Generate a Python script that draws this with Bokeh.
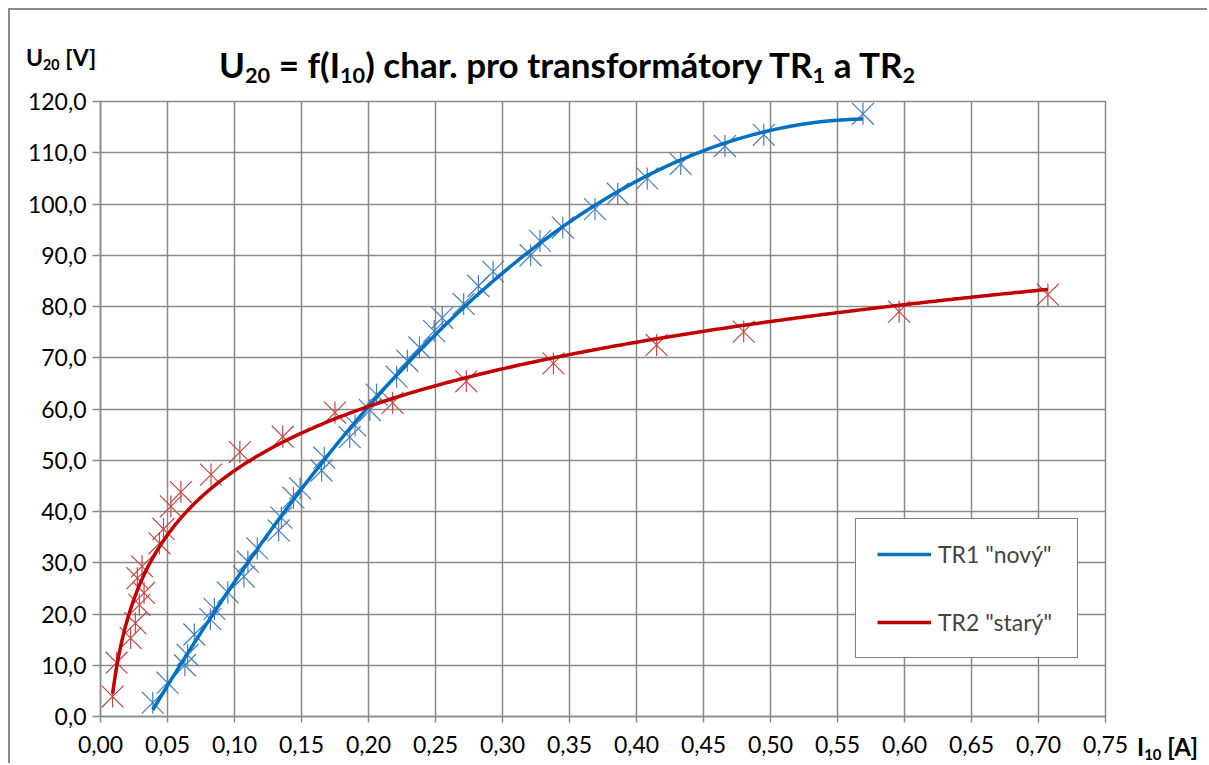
import numpy as np
from bokeh.plotting import figure
from bokeh.layouts import column
from bokeh.models import (Range1d, FixedTicker, CustomJSTickFormatter, Div,
                          Legend, LegendItem)
from bokeh.embed import file_html
from bokeh.resources import INLINE

# ---- data ----
tr1_i = [0.039, 0.050, 0.063, 0.065, 0.070, 0.082, 0.085, 0.095, 0.107, 0.110,
         0.117, 0.133, 0.135, 0.144, 0.149, 0.165, 0.167, 0.186, 0.190, 0.201,
         0.206, 0.221, 0.229, 0.238, 0.249, 0.255, 0.271, 0.282, 0.293, 0.321,
         0.328, 0.345, 0.369, 0.386, 0.408, 0.433, 0.466, 0.495, 0.569]
tr1_u = [2.7, 6.6, 10.0, 12.0, 16.0, 19.0, 21.0, 24.2, 27.3, 30.2,
         32.8, 36.3, 38.8, 42.7, 44.5, 48.0, 50.5, 54.5, 56.8, 59.8,
         62.8, 66.3, 69.4, 72.0, 75.2, 77.8, 80.5, 84.0, 86.8, 90.0,
         92.8, 95.4, 99.0, 102.0, 105.0, 107.8, 111.3, 113.5, 117.6]

tr2_i = [0.009, 0.012, 0.0225, 0.026, 0.0275, 0.029, 0.031, 0.0325, 0.044, 0.047,
         0.0525, 0.060, 0.0825, 0.104, 0.136, 0.175, 0.218, 0.273, 0.338, 0.415,
         0.480, 0.596, 0.707]
tr2_u = [3.9, 10.5, 15.3, 18.2, 27.0, 21.8, 29.3, 24.1, 33.8, 36.6,
         41.0, 43.8, 47.2, 51.6, 54.6, 59.3, 61.2, 65.4, 68.9, 72.5,
         75.1, 79.0, 82.3]

series_names = ['TR1 "nový"', 'TR2 "starý"']
x_ticks = [round(0.05 * k, 2) for k in range(16)]
y_ticks = [10 * k for k in range(13)]

# ---- trendlines computed from the data (as in the original spreadsheet) ----
c1 = np.polyfit(tr1_i, tr1_u, 3)
t1x = np.linspace(min(tr1_i), max(tr1_i), 200)
t1y = np.polyval(c1, t1x)
c2 = np.polyfit(np.log(tr2_i), tr2_u, 1)
t2x = np.linspace(min(tr2_i), max(tr2_i), 300)
t2y = np.polyval(c2, np.log(t2x))

FONT = "Lato"
GRID = "#8a8a8a"

p = figure(width=1199, height=755, output_backend="svg", toolbar_location=None,
           x_range=Range1d(0, 0.75), y_range=Range1d(0, 120),
           min_border_left=90, min_border_right=104, min_border_top=91,
           min_border_bottom=49, background_fill_color="white",
           border_fill_color="white",
           styles={"border-top": "2px solid #8a8a8a",
                   "border-left": "2px solid #8a8a8a",
                   "margin-left": "8px", "margin-top": "8px"})
p.outline_line_color = GRID
p.outline_line_width = 1.5

for ax in (p.xaxis[0], p.yaxis[0]):
    ax.axis_line_color = GRID
    ax.axis_line_width = 1.5
    ax.major_tick_line_color = GRID
    ax.major_tick_line_width = 1.5
    ax.major_tick_in = 0
    ax.minor_tick_line_color = None
    ax.major_label_text_font = FONT
    ax.major_label_text_font_size = "23px"
    ax.major_label_text_color = "black"

p.xaxis.ticker = FixedTicker(ticks=x_ticks)
p.yaxis.ticker = FixedTicker(ticks=y_ticks)
p.xaxis.formatter = CustomJSTickFormatter(code="return tick.toFixed(2).replace('.', ',');")
p.yaxis.formatter = CustomJSTickFormatter(code="return tick.toFixed(1).replace('.', ',');")
p.xaxis.major_tick_out = 6
p.yaxis.major_tick_out = 8
p.xaxis.major_label_standoff = 13
p.yaxis.major_label_standoff = 6

p.xgrid.ticker = FixedTicker(ticks=x_ticks)
p.ygrid.ticker = FixedTicker(ticks=y_ticks)
for g in (p.xgrid[0], p.ygrid[0]):
    g.grid_line_color = GRID
    g.grid_line_width = 1.5

# markers (Excel "star": X plus vertical bar)
for xs, ys, col in ((tr1_i, tr1_u, "#4a7ebb"), (tr2_i, tr2_u, "#be4b48")):
    p.scatter(xs, ys, marker="x", size=31, line_color=col, line_width=1.2)
    p.scatter(xs, ys, marker="dash", angle=np.pi / 2, size=22, line_color=col,
              line_width=1.2)

l1 = p.line(t1x, t1y, line_color="#0070c0", line_width=3.5)
l2 = p.line(t2x, t2y, line_color="#c00000", line_width=3.5)

legend = Legend(items=[LegendItem(label=series_names[0], renderers=[l1]),
                       LegendItem(label=series_names[1], renderers=[l2])],
                location=(755, 58), orientation="vertical",
                border_line_color="black", border_line_width=1.5,
                background_fill_color="white", background_fill_alpha=1.0,
                label_text_font=FONT, label_text_font_size="23px",
                glyph_width=54, glyph_height=24, label_height=24,
                label_width=118, spacing=40, padding=21, label_standoff=7,
                margin=0)
p.add_layout(legend)

SUB = '<sub style="font-size:62%;vertical-align:-0.25em;line-height:0">{}</sub>'
title_html = ("U" + SUB.format("20") + " = f(I" + SUB.format("10") +
              ") char. pro transformátory TR" + SUB.format("1") +
              " a TR" + SUB.format("2"))
ylab_html = "U" + SUB.format("20") + " [V]"
xlab_html = "I" + SUB.format("10") + " [A]"

html = (
    '<div style="position:relative;width:1205px;height:752px;'
    'font-family:Lato;color:black;font-weight:bold;white-space:nowrap;'
    'pointer-events:none;">'
    f'<div style="position:absolute;left:214px;top:34px;font-size:35px;">{title_html}</div>'
    f'<div style="position:absolute;left:21px;top:36px;font-size:23px;">{ylab_html}</div>'
    f'<div style="position:absolute;left:1132px;top:725px;font-size:24px;">{xlab_html}</div>'
    '</div>'
)
labels = Div(text=html, width=1205, height=752,
             styles={"position": "absolute", "left": "0px", "top": "0px",
                     "z-index": "10", "pointer-events": "none"})

root = column(p, labels)
open("out.html", "w").write(file_html(root, INLINE))
